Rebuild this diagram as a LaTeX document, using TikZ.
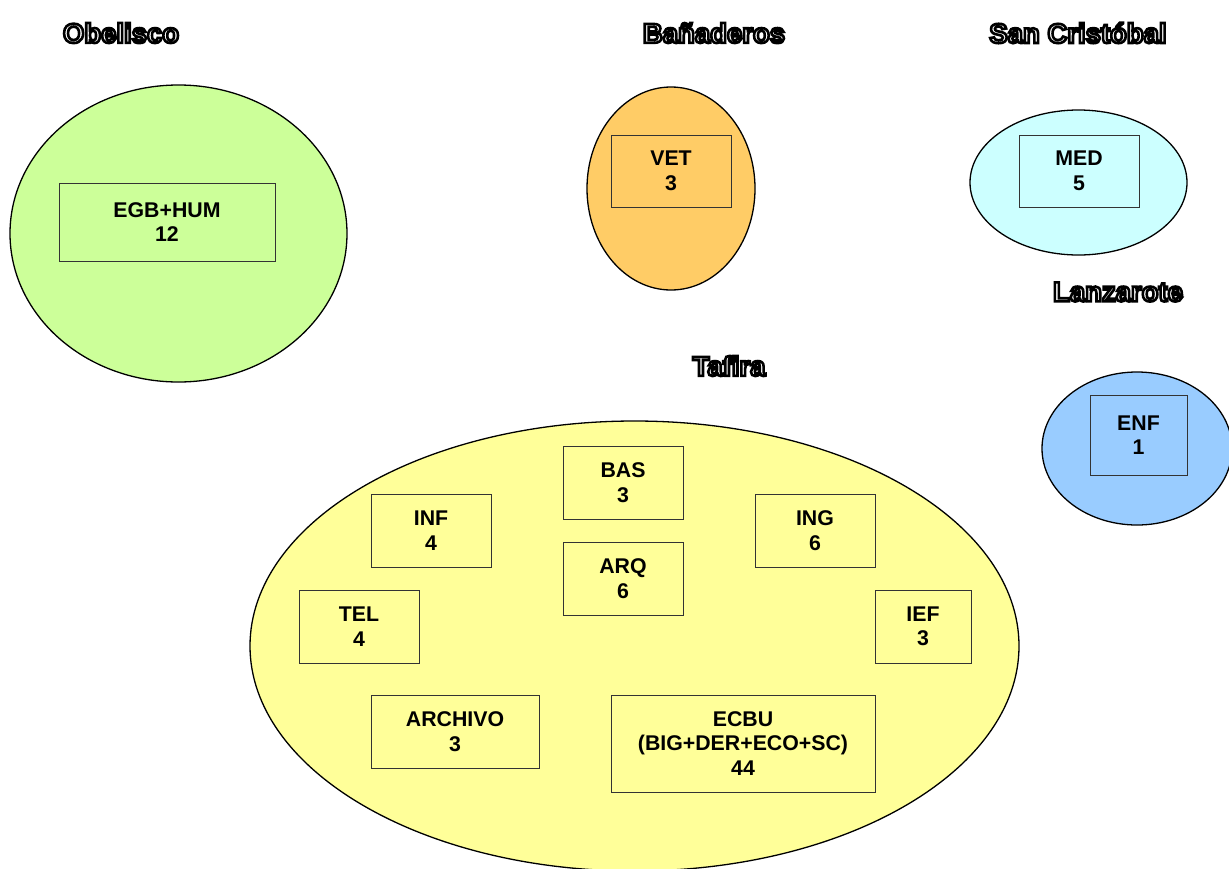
\documentclass[tikz,border=0pt]{standalone}
\usepackage{fontspec}
\setmainfont{Liberation Sans}
\usepackage{tikz}
\usetikzlibrary{shapes.geometric}

\definecolor{obegreen}{HTML}{CCFF99}
\definecolor{banorange}{HTML}{FFCC66}
\definecolor{sancyan}{HTML}{CCFFFF}
\definecolor{lanblue}{HTML}{99CCFF}
\definecolor{tafyellow}{HTML}{FFFF99}

% hollow title letters: white fill, black stroke
\newcommand\hollow[1]{\special{pdf:literal 2 Tr 2.6 w 0 G 1 g}#1\special{pdf:literal 0 Tr 0 g}}

\begin{document}
\begin{tikzpicture}
            [x=1pt,y=-1pt,
             campus/.style={ellipse,draw=black,line width=1.3pt,inner sep=0pt},
             facbox/.style={rectangle,draw=black!80,line width=0.8pt,align=center,inner sep=0pt,
                            font=\fontsize{21.3}{24.5}\selectfont\bfseries},
             title/.style={inner sep=0pt,font=\fontsize{27.5}{30}\selectfont\bfseries}]
            \clip (0,0) rectangle (1229,868);
            \fill[white] (0,0) rectangle (1229,868);
            % the campuses
            \node[campus,fill=obegreen,minimum width=337,minimum height=297] (obelisco) at (178.5,233.5) {};
            \node[campus,fill=banorange,minimum width=168,minimum height=203] (banaderos) at (671,188.5) {};
            \node[campus,fill=sancyan,minimum width=217,minimum height=145] (sancristobal) at (1078.5,182.5) {};
            \node[campus,fill=lanblue,minimum width=190,minimum height=153] (lanzarote) at (1137,448.5) {};
            \node[campus,fill=tafyellow,minimum width=769,minimum height=450] (tafira) at (634.5,646) {};
            % the titles
            \node[title] (tobelisco) at (121,33) {\hollow{Obelisco}};
            \node[title] (tbanaderos) at (714,33) {\hollow{Bañaderos}};
            \node[title] (tsancristobal) at (1078,33) {\hollow{San Cristóbal}};
            \node[title] (tlanzarote) at (1118,292) {\hollow{Lanzarote}};
            \node[title] (ttafira) at (729,366) {\hollow{Tafira}};
            % the libraries
            \node[facbox,minimum width=216,minimum height=78] (egb) at (167,222) {EGB+HUM\\12};
            \node[facbox,minimum width=120,minimum height=72] (vet) at (671,171) {VET\\3};
            \node[facbox,minimum width=120,minimum height=72] (med) at (1079,171) {MED\\5};
            \node[facbox,minimum width=97,minimum height=80] (enf) at (1138.5,435) {ENF\\1};
            \node[facbox,minimum width=120,minimum height=73] (bas) at (623,482.5) {BAS\\3};
            \node[facbox,minimum width=120,minimum height=73] (inf) at (431,530.5) {INF\\4};
            \node[facbox,minimum width=120,minimum height=73] (ing) at (815,530.5) {ING\\6};
            \node[facbox,minimum width=120,minimum height=73] (arq) at (623,578.5) {ARQ\\6};
            \node[facbox,minimum width=120,minimum height=73] (tel) at (359,626.5) {TEL\\4};
            \node[facbox,minimum width=96,minimum height=73] (ief) at (923,626.5) {IEF\\3};
            \node[facbox,minimum width=168,minimum height=73] (archivo) at (455,731.5) {ARCHIVO\\3};
            \node[facbox,minimum width=264,minimum height=97] (ecbu) at (743,743.5) {ECBU\\(BIG+DER+ECO+SC)\\44};
        \end{tikzpicture}
\end{document}
